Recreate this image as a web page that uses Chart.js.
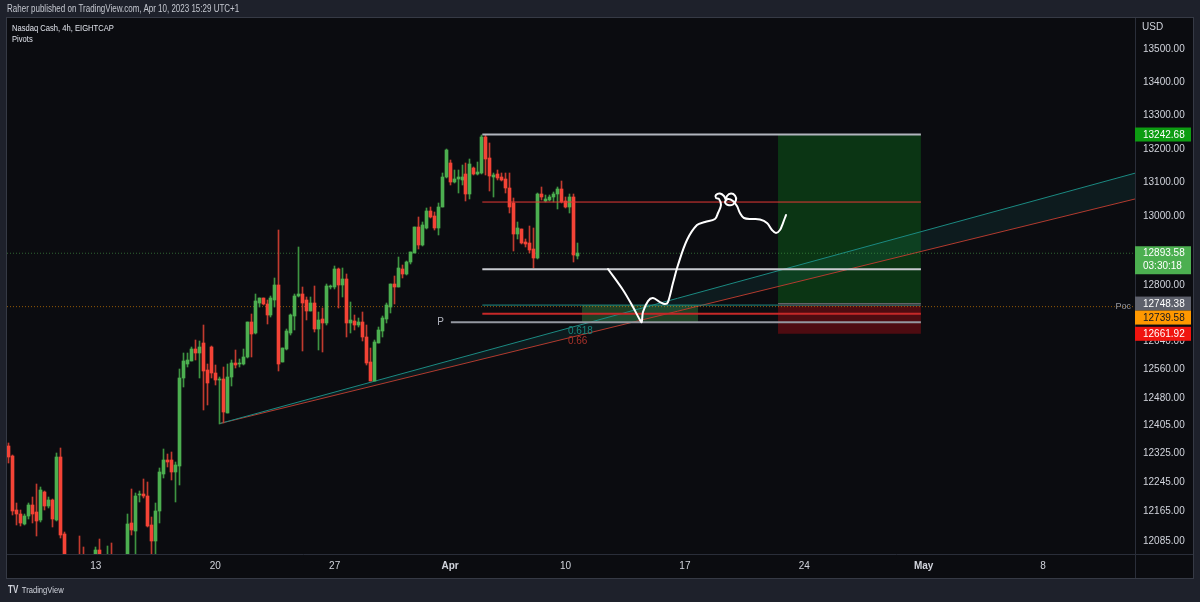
<!DOCTYPE html>
<html>
<head>
<meta charset="utf-8">
<script src="https://cdn.jsdelivr.net/npm/chart.js@4.4.0/dist/chart.umd.min.js"></script>
<style>
  html, body { margin: 0; padding: 0; background: #1e212b; }
  #wrap { position: relative; width: 1200px; height: 602px; overflow: hidden; }
  #chart { position: absolute; left: 0; top: 0; }
  .txt { position: absolute; white-space: nowrap; line-height: 12px;
         font-family: "Liberation Sans", Arial, sans-serif;
         transform-origin: 0 50%; transform: scaleX(0.8); }
  #hdr { left: 7px; top: 3px; font-size: 10px; color: #c5c8d0; }
  #leg1 { left: 12px; top: 22px; font-size: 9.5px; color: #e0e3eb; }
  #leg2 { left: 12px; top: 33px; font-size: 9.5px; color: #e0e3eb; }
  #usd { left: 1142px; top: 21px; font-size: 10px; color: #d1d4dc; transform: none; }
  #foot { left: 8px; top: 584px; font-size: 9.5px; color: #d1d4dc; }
  #foot b { font-size: 10px; margin-right: 2px; }
</style>
</head>
<body>
<div id="wrap">
  <canvas id="chart" width="1200" height="602"></canvas>
  <div class="txt" id="hdr">Raher published on TradingView.com, Apr 10, 2023 15:29 UTC+1</div>
  <div class="txt" id="leg1">Nasdaq Cash, 4h, EIGHTCAP</div>
  <div class="txt" id="leg2">Pivots</div>
  <div class="txt" id="usd">USD</div>
  <div class="txt" id="foot"><b>TV</b> TradingView</div>
</div>
<script>
// 4h candles, bar index 0 = first visible bar (Mar 7)
const opens = [12347,12318,12170,12160,12131,12153,12183,12165,12142,12220,12180,12197,12142,12315,12104,12035,12010,12030,12045,12040,
  12005,12020,12025,12060,12030,12040,12046,12015,12000,12025,12030,12133,12113,12210,12213,12208,12128,12086,12167,12268,
  12307,12307,12275,12291,12537,12576,12585,12618,12608,12635,12559,12625,12551,12531,12533,12439,12540,12578,12576,12576,
  12595,12695,12663,12749,12763,12746,12715,12760,12802,12583,12618,12665,12713,12770,12776,12758,12728,12749,12676,12703,
  12693,12797,12797,12849,12802,12818,12692,12698,12687,12696,12653,12583,12529,12637,12671,12703,12739,12806,12797,12847,
  12833,12867,12895,12969,12917,12966,13017,13002,12968,13029,13117,13159,13103,13110,13108,13125,13066,13144,13125,13129,
  13236,13174,13117,13125,13116,13110,13083,13039,12949,12963,12927,12924,12905,12879,13066,13047,13049,13057,13066,13080,
  13047,13027,13057,12886];
const highs = [12355,12321,12188,12169,12160,12189,12205,12241,12233,12223,12206,12199,12327,12342,12110,12045,12040,12044,12098,12069,
  12035,12045,12068,12090,12045,12071,12081,12040,12030,12045,12160,12227,12215,12222,12254,12246,12151,12189,12284,12337,
  12325,12330,12302,12561,12606,12606,12625,12644,12641,12686,12576,12627,12572,12540,12567,12576,12587,12616,12589,12620,
  12697,12718,12776,12765,12765,12758,12770,12823,12961,12622,12677,12718,12776,12911,12796,12768,12768,12800,12725,12735,
  12805,12802,12858,12850,12852,12833,12754,12716,12706,12725,12687,12621,12644,12680,12713,12749,12806,12828,12882,12859,
  12872,12898,12970,13000,12985,13025,13028,13015,13039,13128,13199,13167,13137,13137,13152,13159,13169,13147,13162,13242.68,
  13240,13218,13128,13137,13128,13128,13128,13054,12985,12965,12934,12973,12966,13069,13088,13064,13064,13073,13088,13105,
  13057,13067,13067,12922];
const lows = [12298,12156,12128,12127,12128,12145,12134,12098,12137,12169,12175,12124,12140,12092,12020,11995,11990,11985,11985,11990,
  11975,11990,12010,12015,12000,12010,11995,11980,11970,12000,12020,12101,12045,12192,12202,12122,12045,12048,12135,12259,
  12289,12252,12192,12238,12512,12568,12585,12587,12536,12447,12461,12536,12517,12407,12409,12438,12514,12564,12567,12573,
  12593,12595,12661,12739,12745,12689,12711,12738,12557,12581,12616,12658,12673,12768,12614,12701,12727,12668,12616,12609,
  12687,12790,12789,12735,12768,12654,12663,12673,12682,12641,12573,12527,12527,12635,12654,12694,12722,12747,12795,12821,
  12831,12862,12894,12905,12915,12965,12995,12961,12947,13027,13115,13093,13098,13070,13093,13047,13051,13123,13123,13126,
  13123,13076,13059,13108,13106,13070,13012,12901,12934,12920,12912,12895,12852,12877,13049,13044,13046,13044,13022,13039,
  13025,13010,12869,12876];
const closes = [12316,12168,12160,12133,12153,12183,12160,12140,12224,12181,12197,12144,12315,12101,12035,12010,12030,11998,12000,12005,
  12020,12030,12060,12030,12040,12046,12015,12000,12025,12030,12131,12115,12208,12213,12208,12127,12086,12168,12275,12307,
  12303,12275,12293,12538,12585,12587,12618,12608,12625,12557,12523,12551,12531,12533,12442,12540,12580,12574,12580,12597,
  12695,12661,12756,12763,12746,12716,12763,12802,12576,12621,12670,12716,12770,12776,12751,12728,12749,12676,12701,12692,
  12800,12800,12847,12802,12818,12692,12700,12687,12696,12654,12580,12529,12639,12673,12706,12744,12805,12797,12850,12833,
  12869,12896,12969,12917,12976,13017,12998,12966,13029,13118,13197,13103,13110,13118,13118,13067,13154,13126,13132,13236,
  13169,13120,13123,13113,13108,13083,13029,12949,12966,12924,12920,12903,12879,13067,13057,13053,13059,13067,13082,13043,
  13028,13057,12888,12893.58];

// time axis: bar index of each week start and its label
const weekTickIdx = [22, 52, 82, 111, 140, 170, 200, 230, 260];
const weekTickLabels = ['13', '20', '27', 'Apr', '10', '17', '24', 'May', '8'];
const priceTicks = [13500, 13400, 13300, 13200, 13100, 13000, 12800, 12640, 12560, 12480, 12405, 12325, 12245, 12165, 12085];
const xRange = [-0.33, 283.1];
const yRange = [12049.8, 13594.5];

const lastPrice = 12893.58;
const countdown = '03:30:18';
const pocPrice = 12739.58;

// long position tool
const longFrom = 193.4, longTo = 229.3;
const longEntry = 12748.38, longTarget = 13242.68, longStop = 12661.92;

// horizontal levels drawn on the chart
const levelPrices = [13242.68, 13043, 12847, 12744, 12719, 12694.6];
const levelFrom = [119.1, 119.1, 119.1, 119.1, 119.1, 111.2];
const levelTo = 229.3;

// zone box
const zoneFrom = 144.1, zoneTo = 173.3, zoneTop = 12744, zoneBottom = 12694.6;

// trend channel (start bar, start price, end bar, end price)
const channelStart = [53.2, 12409];
const channelTealEnd = [283.1, 13128];
const channelRedEnd = [283.1, 13052];
const fibLabels = ['0.618', '0.66'];
const fibLabelIdx = 140.6;
const fibLabelPrices = [12670.6, 12642];

// freehand projection
const pathIdx = [150.68,154.45,156.96,158.72,159.15,159.47,160.73,161.98,163.74,165.0,165.75,167.01,168.27,170.53,173.04,175.05,
  177.56,178.32,179.07,178.57,177.81,177.81,178.82,179.82,180.33,180.58,181.58,182.59,182.84,182.09,180.83,180.08,180.83,182.09,
  183.09,183.84,184.85,186.86,188.87,190.63,191.88,192.89,193.89,194.65,195.40];
const pathPrice = [12847.8,12787.2,12738.4,12701.2,12695.5,12724.1,12755.6,12764.2,12752.8,12747.1,12752.8,12807.4,12859.4,12932.0,
  12975.7,12984.5,12993.2,13010.8,13034.2,13051.8,13054.8,13063.6,13068.0,13060.7,13048.9,13060.7,13068.0,13062.1,13048.9,13035.7,
  13034.2,13043.0,13051.8,13046.0,13031.3,13010.8,12996.2,12993.2,12991.8,12981.6,12961.1,12952.4,12961.1,12981.6,13004.9];

const FONT = '"Liberation Sans", Arial, sans-serif';
const upColor = '#4caf50';
const downColor = '#f44336';
const isUp = opens.map((o, i) => closes[i] >= o);
const bodyColors = isUp.map(u => u ? upColor : downColor);
const wickColors = isUp.map(u => u ? '#3e9442' : '#c23a2f');

function hline(price, from, to, color, width, dash, order) {
  return {
    type: 'line',
    data: [{ x: from, y: price }, { x: to, y: price }],
    borderColor: color,
    borderWidth: width,
    borderDash: dash || [],
    pointRadius: 0,
    fill: false,
    order: order
  };
}

function box(from, to, top, bottom, color) {
  return {
    type: 'line',
    data: [{ x: from, y: top }, { x: to, y: top }],
    borderWidth: 0,
    borderColor: 'rgba(0,0,0,0)',
    backgroundColor: color,
    pointRadius: 0,
    fill: { value: bottom },
    order: 6
  };
}

const levelColors = ['#b2b5be', '#e53935', '#c8cad0', '#1f8f86', '#c62828', '#9598a1'];
const levelWidths = [2, 1, 2, 1, 2, 2];

const datasets = [
  // channel
  {
    type: 'line',
    data: [{ x: channelStart[0], y: channelStart[1] }, { x: channelTealEnd[0], y: channelTealEnd[1] }],
    borderColor: '#1b8a82', borderWidth: 1, pointRadius: 0, fill: false, order: 6
  },
  {
    type: 'line',
    data: [{ x: channelStart[0], y: channelStart[1] }, { x: channelRedEnd[0], y: channelRedEnd[1] }],
    borderColor: '#b23a2e', borderWidth: 1, pointRadius: 0,
    fill: '-1', backgroundColor: 'rgba(38,166,154,0.10)', order: 6
  },
  box(longFrom, longTo, longTarget, longEntry, 'rgba(14,120,30,0.38)'),
  box(longFrom, longTo, longEntry, longStop, 'rgba(160,14,20,0.45)'),
  box(zoneFrom, zoneTo, zoneTop, zoneBottom, 'rgba(76,175,80,0.32)'),
  // dotted full-width lines
  hline(lastPrice, xRange[0], xRange[1], 'rgba(76,175,80,0.55)', 1, [1, 2], 4),
  hline(pocPrice, xRange[0], xRange[1], 'rgba(255,152,0,0.55)', 1, [1, 2], 4),
  hline(longEntry, longFrom, longTo, 'rgba(120,123,134,0.8)', 1, [], 4),
  // candles: wicks then bodies
  {
    type: 'bar',
    data: opens.map((o, i) => ({ x: i, y: [lows[i], highs[i]] })),
    backgroundColor: wickColors,
    barThickness: 1,
    grouped: false,
    clip: 0,
    order: 3
  },
  {
    type: 'bar',
    data: opens.map((o, i) => ({ x: i, y: [o, closes[i]] })),
    backgroundColor: bodyColors,
    barThickness: 3,
    minBarLength: 1,
    grouped: false,
    clip: 0,
    order: 2
  }
];

levelPrices.forEach((p, k) => {
  datasets.push(hline(p, levelFrom[k], levelTo, levelColors[k], levelWidths[k], [], 1));
});

datasets.push({
  type: 'line',
  data: pathIdx.map((x, k) => ({ x: x, y: pathPrice[k] })),
  borderColor: '#ffffff',
  borderWidth: 2,
  tension: 0.35,
  pointRadius: 0,
  fill: false,
  borderCapStyle: 'round',
  borderJoinStyle: 'round',
  order: 0
});

// snap candle elements to whole pixels so bodies and wicks stay crisp
const crisp = {
  id: 'crisp',
  afterDatasetsUpdate(chart) {
    chart.data.datasets.forEach((ds, k) => {
      if (ds.type !== 'bar') return;
      chart.getDatasetMeta(k).data.forEach(el => {
        el.x = Math.floor(el.x) + 0.5;
        el.y = Math.round(el.y);
        el.base = Math.round(el.base);
      });
    });
  }
};

const chrome = {
  id: 'chrome',
  beforeDraw(chart) {
    const c = chart.ctx;
    const a = chart.chartArea;
    const xs = chart.scales.x, ys = chart.scales.y;
    c.save();
    c.fillStyle = '#0b0c10';
    c.fillRect(a.left, a.top, ys.right - a.left, xs.bottom - a.top);
    c.restore();
  },
  afterDatasetsDraw(chart) {
    const c = chart.ctx;
    const xs = chart.scales.x, ys = chart.scales.y;
    c.save();
    c.textBaseline = 'middle';
    c.font = '10px ' + FONT;
    c.fillStyle = '#b2b5be';
    c.textAlign = 'center';
    c.fillText('P', xs.getPixelForValue(108.6), ys.getPixelForValue(levelPrices[5]));
    c.textAlign = 'left';
    c.fillStyle = '#17867c';
    c.fillText(fibLabels[0], xs.getPixelForValue(fibLabelIdx), ys.getPixelForValue(fibLabelPrices[0]));
    c.fillStyle = '#a8322a';
    c.fillText(fibLabels[1], xs.getPixelForValue(fibLabelIdx), ys.getPixelForValue(fibLabelPrices[1]));
    c.textAlign = 'right';
    c.font = '9px ' + FONT;
    c.fillStyle = '#9598a1';
    c.fillText('Poc', xs.right - 4, ys.getPixelForValue(pocPrice));
    c.restore();
  },
  afterDraw(chart) {
    const c = chart.ctx;
    const a = chart.chartArea;
    const xs = chart.scales.x, ys = chart.scales.y;
    c.save();
    // panel separators
    c.strokeStyle = '#2a2e39';
    c.lineWidth = 1;
    c.beginPath();
    c.moveTo(a.right + 0.5, a.top); c.lineTo(a.right + 0.5, xs.bottom);
    c.moveTo(a.left, a.bottom + 0.5); c.lineTo(ys.right, a.bottom + 0.5);
    c.stroke();
    c.strokeStyle = '#363a45';
    c.strokeRect(a.left - 0.5, a.top - 0.5, ys.right - a.left + 1, xs.bottom - a.top + 1);

    // price tags on the axis
    const tags = [
      { v: longTarget, bg: '#0d9d12', fg: '#ffffff' },
      { v: lastPrice, bg: '#4caf50', fg: '#ffffff', sub: countdown },
      { v: longEntry, bg: '#5d606b', fg: '#ffffff' },
      { v: pocPrice, bg: '#ff9800', fg: '#131722' },
      { v: longStop, bg: '#f0140f', fg: '#ffffff' }
    ];
    const h = 14;
    let prevBottom = -1e9;
    c.font = '10px ' + FONT;
    c.textBaseline = 'middle';
    c.textAlign = 'left';
    tags.forEach(t => {
      let y = ys.getPixelForValue(t.v);
      if (y - h / 2 < prevBottom) y = prevBottom + h / 2;
      const top = y - h / 2;
      const bh = t.sub ? h + 14 : h;
      c.fillStyle = t.bg;
      c.fillRect(a.right, top, ys.right - a.right - 2, bh);
      c.fillStyle = t.fg;
      c.fillText(t.v.toFixed(2), a.right + 8, y + 0.5);
      if (t.sub) c.fillText(t.sub, a.right + 8, y + 13);
      prevBottom = t.sub ? y - h / 2 : top + bh;
    });
    c.restore();
  }
};

new Chart(document.getElementById('chart'), {
  type: 'bar',
  data: { datasets: datasets },
  options: {
    responsive: false,
    animation: false,
    events: [],
    layout: { padding: { left: 7, top: 18, right: 7, bottom: 24 } },
    plugins: { legend: { display: false }, tooltip: { enabled: false } },
    scales: {
      x: {
        type: 'linear',
        min: xRange[0],
        max: xRange[1],
        offset: false,
        grid: { display: false, drawTicks: false },
        border: { display: false },
        afterBuildTicks: s => { s.ticks = weekTickIdx.map(v => ({ value: v })); },
        afterFit: s => { s.height = 24; },
        ticks: {
          autoSkip: false,
          maxRotation: 0,
          padding: 6,
          color: '#d1d4dc',
          font: c => ({ size: 10, family: FONT, weight: /[A-Za-z]/.test(weekTickLabels[c.index] || '') ? 'bold' : 'normal' }),
          callback: (v, i) => weekTickLabels[i]
        }
      },
      y: {
        type: 'logarithmic',
        position: 'right',
        min: yRange[0],
        max: yRange[1],
        grid: { display: false, drawTicks: false },
        border: { display: false },
        afterBuildTicks: s => { s.ticks = priceTicks.map(v => ({ value: v })); },
        afterFit: s => { s.width = 58; },
        ticks: {
          autoSkip: false,
          padding: 8,
          color: '#d1d4dc',
          font: { size: 10, family: FONT },
          callback: v => Number(v).toFixed(2)
        }
      }
    }
  },
  plugins: [crisp, chrome]
});
</script>
</body>
</html>
